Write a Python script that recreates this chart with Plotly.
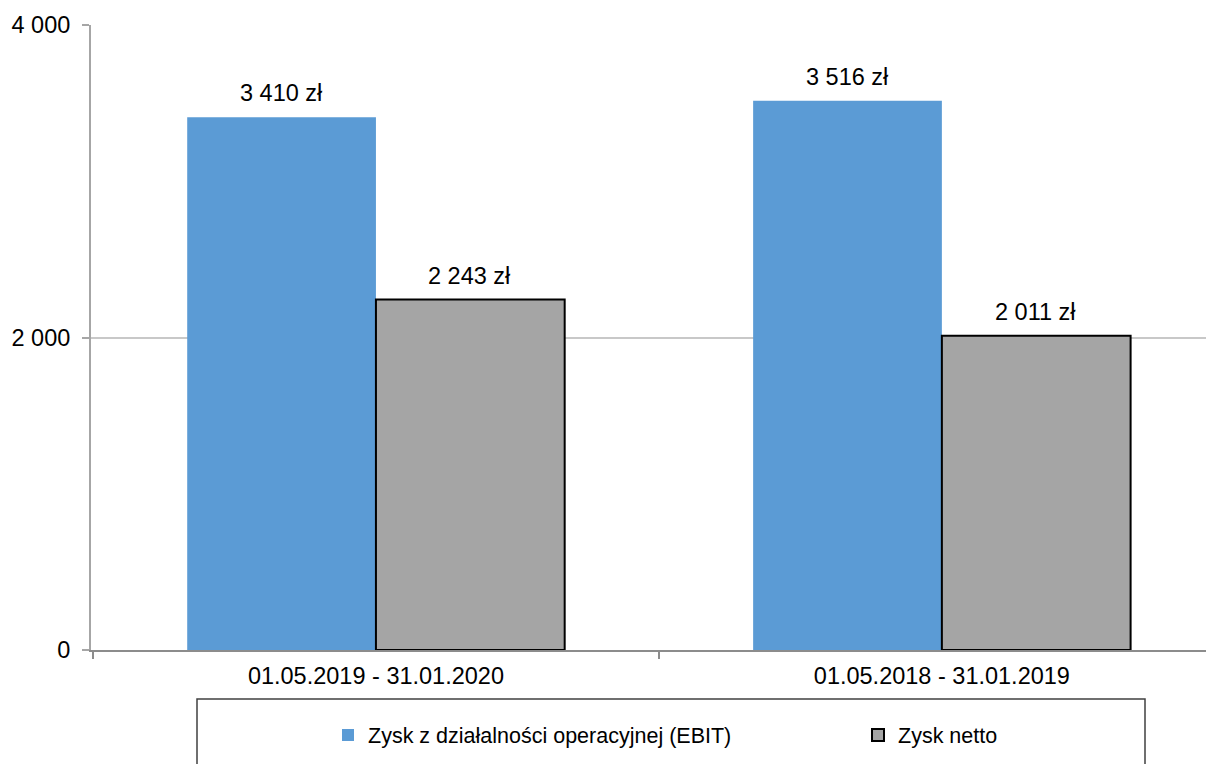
import plotly.graph_objects as go

okresy = ["01.05.2019 - 31.01.2020", "01.05.2018 - 31.01.2019"]
ebit = [3410, 3516]
zysk_netto = [2243, 2011]
nazwy = ["Zysk z działalności operacyjnej (EBIT)", "Zysk netto"]

# strona html ma 8 px marginesu body, wiec wszystko przesuwamy o 8 px
OFF = 8
W, H = 1214, 764
L, T = 91 - OFF, 25 - OFF
B = H - (650 - OFF)
FONT = "Liberation Sans, Arial, sans-serif"


def px_x(p):
    return (p - OFF - L) / (W - L)


def px_y(p):
    return (H - B - (p - OFF)) / (H - B - T)


fig = go.Figure()
fig.add_trace(go.Bar(
    x=okresy, y=ebit, name=nazwy[0], legend="legend",
    marker=dict(color="#5B9BD5", line=dict(width=0)),
))
fig.add_trace(go.Bar(
    x=okresy, y=zysk_netto, name=nazwy[1], legend="legend2",
    marker=dict(color="#A5A5A5", line=dict(width=2, color="#000000")),
))

# etykiety nad slupkami
for seria, shift in ((ebit, -94), (zysk_netto, 94)):
    for okres, v in zip(okresy, seria):
        fig.add_annotation(
            x=okres, y=v, text="{:,} zł".format(v).replace(",", " "),
            showarrow=False, yanchor="bottom", xshift=shift, yshift=9,
            font=dict(size=23.5, color="#000000"),
        )

leg = dict(
    orientation="h", xanchor="left", yanchor="middle",
    font=dict(size=21.5), bgcolor="rgba(0,0,0,0)", borderwidth=0,
)
fig.update_layout(
    width=W, height=H,
    margin=dict(l=L, r=0, t=T, b=B, pad=0, autoexpand=False),
    plot_bgcolor="white", paper_bgcolor="white",
    font=dict(family=FONT, size=23.5, color="#000000"),
    separators=", ",
    barmode="group", bargap=0.333, bargroupgap=0,
    showlegend=True,
    legend=dict(leg, x=px_x(368 - 40), y=px_y(735)),
    legend2=dict(leg, x=px_x(898 - 40), y=px_y(735)),
    hovermode=False,
)
fig.update_xaxes(
    type="category", range=[-0.5035, 1.495], automargin=False,
    showline=True, linecolor="#8c8c8c", linewidth=2,
    ticks="outside", tickson="boundaries", ticklen=7, tickcolor="#8c8c8c", tickwidth=2,
    showgrid=False, tickfont=dict(size=23.5), ticklabelstandoff=4,
)
fig.update_yaxes(
    range=[0, 4000], dtick=2000, tickformat=",d", automargin=False,
    showline=True, linecolor="#a6a6a6", linewidth=2,
    ticks="outside", ticklen=7, tickcolor="#a6a6a6", tickwidth=2,
    showgrid=True, gridcolor="#c8c8c8", gridwidth=2, zeroline=False,
    ticklabelstandoff=7, tickfont=dict(size=23.5),
)
fig.add_shape(
    type="rect", xref="paper", yref="paper",
    x0=px_x(197), x1=px_x(1145), y0=px_y(699), y1=px_y(800),
    line=dict(color="#404040", width=1.5), fillcolor="rgba(0,0,0,0)",
)

fig.write_html("out.html")
